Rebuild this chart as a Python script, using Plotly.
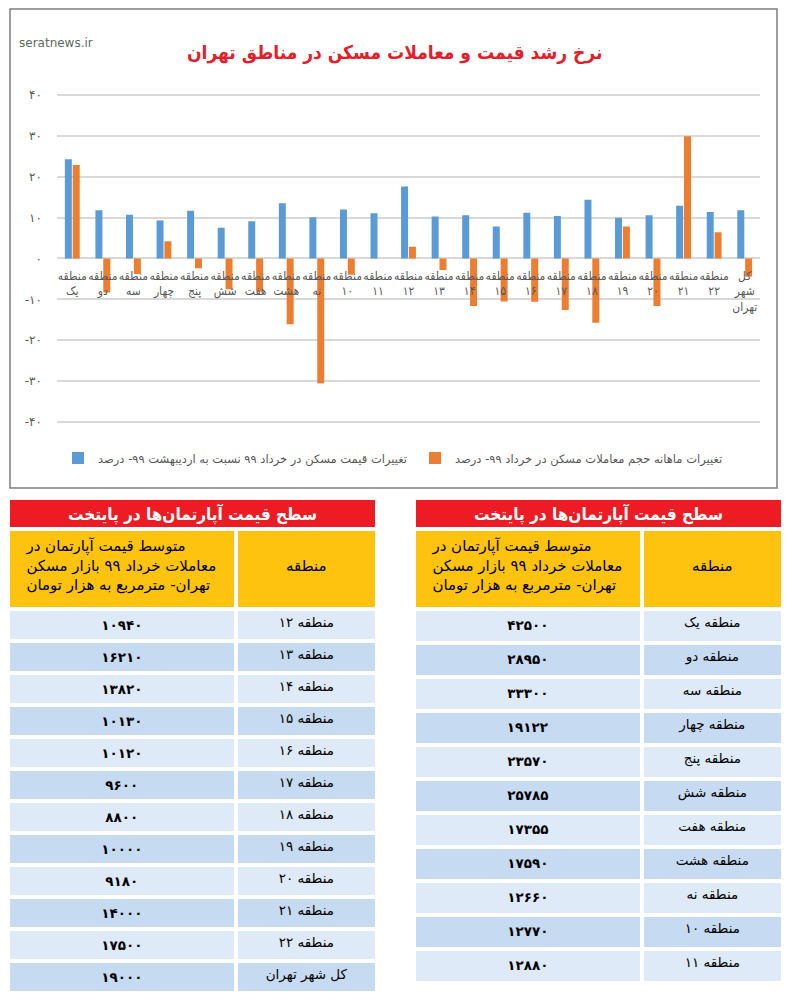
import plotly.graph_objects as go

# ---------------- data ----------------
categories = ["منطقه<br>یک", "منطقه<br>دو", "منطقه<br>سه", "منطقه<br>چهار", "منطقه<br>پنج",
              "منطقه<br>شش", "منطقه<br>هفت", "منطقه<br>هشت", "منطقه<br>نه", "منطقه<br>۱۰",
              "منطقه<br>۱۱", "منطقه<br>۱۲", "منطقه<br>۱۳", "منطقه<br>۱۴", "منطقه<br>۱۵",
              "منطقه<br>۱۶", "منطقه<br>۱۷", "منطقه<br>۱۸", "منطقه<br>۱۹", "منطقه<br>۲۰",
              "منطقه<br>۲۱", "منطقه<br>۲۲", "کل<br>شهر<br>تهران"]
price_change = [24.3, 11.8, 10.7, 9.3, 11.7, 7.5, 9.1, 13.5, 10.1, 12.0, 11.1, 17.6,
                10.3, 10.6, 7.8, 11.2, 10.4, 14.4, 10.0, 10.6, 12.9, 11.4, 11.8]
volume_change = [22.9, -8.3, -3.8, 4.2, -2.4, -7.5, -8.1, -16.1, -30.5, -4.0, 0.0, 2.9,
                 -2.8, -11.6, -10.5, -10.6, -12.6, -15.7, 7.8, -11.6, 29.9, 6.4, -4.4]
price_name = "تغییرات قیمت مسکن در خرداد ۹۹ نسبت به اردیبهشت ۹۹- درصد"
volume_name = "تغییرات ماهانه حجم معاملات مسکن در خرداد ۹۹- درصد"
y_tickvals = [-40, -30, -20, -10, 0, 10, 20, 30, 40]
y_ticktext = ["-۴۰", "-۳۰", "-۲۰", "-۱۰", "۰", "۱۰", "۲۰", "۳۰", "۴۰"]
chart_title = "نرخ رشد قیمت و معاملات مسکن در مناطق تهران"

table_title = "سطح قیمت آپارتمان\u200cها در پایتخت"
header_value = "متوسط قیمت آپارتمان در<br>معاملات خرداد ۹۹ بازار مسکن<br>تهران- مترمربع به هزار تومان"
header_region = "\u00a0<br>منطقه<br>\u00a0"
left_regions = ["منطقه ۱۲", "منطقه ۱۳", "منطقه ۱۴", "منطقه ۱۵", "منطقه ۱۶", "منطقه ۱۷",
                "منطقه ۱۸", "منطقه ۱۹", "منطقه ۲۰", "منطقه ۲۱", "منطقه ۲۲", "کل شهر تهران"]
left_prices = [10940, 16210, 13820, 10130, 10120, 9600, 8800, 10000, 9180, 14000, 17500, 19000]
right_regions = ["منطقه یک", "منطقه دو", "منطقه سه", "منطقه چهار", "منطقه پنج", "منطقه شش",
                 "منطقه هفت", "منطقه هشت", "منطقه نه", "منطقه ۱۰", "منطقه ۱۱"]
right_prices = [42500, 28950, 33300, 19122, 23570, 25785, 17355, 17590, 12660, 12770, 12880]

# ---------------- style ----------------
W, H = 788, 1000
BLUE = "#5b9bd5"
ORANGE = "#ed7d31"
GRAY_TXT = "#595959"
GRID = "#d9d9d9"
RED = "#ed1c24"
YELLOW = "#fdc30f"
ROW_LIGHT = "#deeaf7"
ROW_DARK = "#c6daf1"
FONT = "DejaVu Sans"
FONT_C = "DejaVu Sans Condensed, DejaVu Sans"

def fx(px):
    return px / W

def fy(py):
    return 1 - py / H

FA = str.maketrans("0123456789", "۰۱۲۳۴۵۶۷۸۹")

def fa(n):
    return str(n).translate(FA)

fig = go.Figure()

fig.add_trace(go.Bar(x=categories, y=price_change, name=price_name,
                     marker=dict(color=BLUE, line=dict(width=0))))
fig.add_trace(go.Bar(x=categories, y=volume_change, name=volume_name,
                     marker=dict(color=ORANGE, line=dict(width=0))))

# value range padded slightly so the +-40 grid lines are drawn inside the plot
ypad = 0.6
px_per_unit = (422 - 95) / 80.0
ydom = [fy(422 + ypad * px_per_unit), fy(95 - ypad * px_per_unit)]

def row_colors(n):
    return [ROW_LIGHT if i % 2 == 0 else ROW_DARK for i in range(n)]

shapes = [dict(type="rect", xref="paper", yref="paper",
               x0=fx(10), x1=fx(777), y0=fy(488), y1=fy(9),
               line=dict(color="#7f7f7f", width=1.5), fillcolor="rgba(0,0,0,0)",
               layer="below")]
annotations = [
    dict(text="<b>" + chart_title + "</b>", xref="paper", yref="paper",
         x=fx(394), y=fy(52), xanchor="center", yanchor="middle", showarrow=False,
         font=dict(family=FONT_C, size=19, color="#e3202a")),
    dict(text="seratnews.ir", xref="paper", yref="paper", x=fx(17), y=fy(43),
         xanchor="left", yanchor="middle", showarrow=False,
         font=dict(family=FONT, size=12, color="#5e6b5e")),
]

def add_table(x0, x1, regions, prices, row_h, fsize):
    # red title bar
    shapes.append(dict(type="rect", xref="paper", yref="paper",
                       x0=fx(x0 + 2), x1=fx(x1 - 2), y0=fy(528), y1=fy(500),
                       line=dict(width=0), fillcolor=RED, layer="below"))
    annotations.append(dict(text="<b>" + table_title + "</b>", xref="paper", yref="paper",
                            x=fx((x0 + x1) / 2), y=fy(514), xanchor="center", yanchor="middle",
                            showarrow=False, font=dict(family=FONT_C, size=17, color="white")))
    colors = row_colors(len(regions))
    fig.add_trace(go.Table(
        domain=dict(x=[fx(x0), fx(x1)], y=[0, fy(529)]),
        columnwidth=[227, 141],
        header=dict(values=[header_value, header_region], fill=dict(color=YELLOW),
                    line=dict(color="white", width=4), height=80, align="center",
                    font=dict(family=FONT, size=15, color="black")),
        cells=dict(values=[["<b>" + fa(p) + "</b>" for p in prices], regions],
                   fill=dict(color=[colors, colors]),
                   line=dict(color="white", width=4), height=row_h, align="center",
                   font=dict(family=FONT, size=fsize, color="black")),
    ))

add_table(8, 377, left_regions, left_prices, 32, 13.5)
add_table(414, 783, right_regions, right_prices, 34, 13.5)

fig.update_layout(
    width=W, height=H, autosize=False,
    margin=dict(l=0, r=0, t=0, b=0, pad=0, autoexpand=False),
    paper_bgcolor="white", plot_bgcolor="white",
    barmode="group", bargap=0.486, bargroupgap=0.11,
    font=dict(family=FONT, color=GRAY_TXT),
    showlegend=True,
    legend=dict(orientation="h", x=fx(58), y=fy(458), xanchor="left", yanchor="middle",
                font=dict(family=FONT, size=11.5, color=GRAY_TXT),
                entrywidth=312, entrywidthmode="pixels",
                traceorder="normal", bgcolor="rgba(0,0,0,0)"),
    xaxis=dict(domain=[fx(57), fx(760)], anchor="free", position=(ydom[0] + ydom[1]) / 2,
               tickangle=0, showgrid=False, showline=False, zeroline=False, ticks="",
               tickfont=dict(family=FONT_C, size=12, color=GRAY_TXT), ticklabelstandoff=8,
               automargin=False, fixedrange=True),
    yaxis=dict(domain=ydom, range=[-40 - ypad, 40 + ypad], tickvals=y_tickvals,
               ticktext=y_ticktext,
               showgrid=True, gridcolor=GRID, gridwidth=1.6, zeroline=False, showline=False,
               ticks="", tickfont=dict(family=FONT, size=12, color=GRAY_TXT),
               ticklabelstandoff=14, automargin=False, fixedrange=True),
    shapes=shapes,
    annotations=annotations,
)

fig.write_html("out.html", config={"displayModeBar": False},
               post_script="document.body.style.margin='0';")
